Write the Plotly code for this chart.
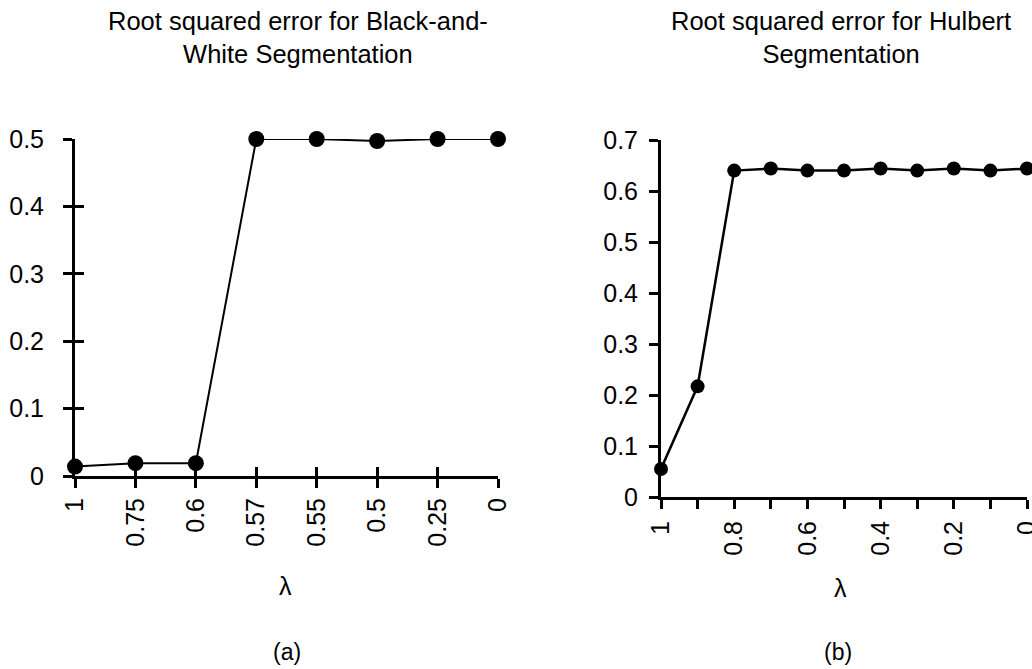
import plotly.graph_objects as go

# ---- data ----
bw_lambda = ["1", "0.75", "0.6", "0.57", "0.55", "0.5", "0.25", "0"]
bw_error = [0.014, 0.019, 0.019, 0.5, 0.5, 0.497, 0.5, 0.5]
bw_yticks = [0, 0.1, 0.2, 0.3, 0.4, 0.5]

hul_lambda = [1.0, 0.9, 0.8, 0.7, 0.6, 0.5, 0.4, 0.3, 0.2, 0.1, 0.0]
hul_error = [0.055, 0.217, 0.64, 0.644, 0.64, 0.64, 0.644, 0.64, 0.644, 0.64, 0.644]
hul_xticks = [1.0, 0.9, 0.8, 0.7, 0.6, 0.5, 0.4, 0.3, 0.2, 0.1, 0.0]
hul_xticktext = ["1", "", "0.8", "", "0.6", "", "0.4", "", "0.2", "", "0"]
hul_yticks = [0, 0.1, 0.2, 0.3, 0.4, 0.5, 0.6, 0.7]

titles = ["Root squared error for Black-and-<br>White Segmentation",
          "Root squared error for Hulbert<br>Segmentation"]
x_label = "λ"
panel_labels = ["(a)", "(b)"]

FONT = "Liberation Sans, Arial, sans-serif"
W, H = 1032, 669

L_dom_x = [75 / W, 498 / W]
L_dom_y = [1 - 476 / H, 1 - 139 / H]
R_dom_x = [661 / W, 1027 / W]
R_dom_y = [1 - 497 / H, 1 - 140 / H]

fig = go.Figure()

fig.add_trace(go.Scatter(x=bw_lambda, y=bw_error, mode="lines+markers",
                         line=dict(color="black", width=2),
                         marker=dict(color="black", size=16),
                         cliponaxis=False, showlegend=False,
                         xaxis="x", yaxis="y"))
# transparent copy so the overlay category axis knows the categories
fig.add_trace(go.Scatter(x=bw_lambda, y=bw_error, mode="markers",
                         marker=dict(opacity=0), showlegend=False,
                         hoverinfo="skip", xaxis="x3", yaxis="y3"))

fig.add_trace(go.Scatter(x=hul_lambda, y=hul_error, mode="lines+markers",
                         line=dict(color="black", width=2.5),
                         marker=dict(color="black", size=14),
                         cliponaxis=False, showlegend=False,
                         xaxis="x2", yaxis="y2"))

tickfont = dict(family=FONT, size=25, color="black")

common_main = dict(showline=True, linewidth=3, linecolor="black",
                   ticks="outside", ticklen=9, tickwidth=3, tickcolor="black",
                   showgrid=False, zeroline=False, tickfont=tickfont,
                   automargin=False, ticklabeloverflow="allow")
common_over = dict(showline=False, ticks="inside", ticklen=9, tickwidth=3,
                   tickcolor="black", showgrid=False, zeroline=False,
                   showticklabels=False, automargin=False)

fig.update_layout(
    template="none",
    width=W, height=H,
    margin=dict(l=0, r=0, t=0, b=0, autoexpand=False),
    paper_bgcolor="white", plot_bgcolor="rgba(0,0,0,0)",
    font=dict(family=FONT, color="black"),
    xaxis=dict(domain=L_dom_x, anchor="y", type="category",
               categoryarray=bw_lambda, range=[0, len(bw_lambda) - 1],
               tickangle=-90, ticklabelstandoff=0, **common_main),
    yaxis=dict(domain=L_dom_y, anchor="x", range=[0, 0.5],
               tickvals=bw_yticks, ticktext=[f"{v:g}" for v in bw_yticks],
               ticklabelstandoff=14, **common_main),
    xaxis3=dict(overlaying="x", anchor="y3", type="category",
                categoryarray=bw_lambda, range=[0, len(bw_lambda) - 1],
                **common_over),
    yaxis3=dict(overlaying="y", anchor="x3", range=[0, 0.5],
                tickvals=bw_yticks, **common_over),
    xaxis2=dict(domain=R_dom_x, anchor="y2", range=[1, 0],
                tickvals=hul_xticks, ticktext=hul_xticktext,
                tickangle=-90, ticklabelstandoff=2, **common_main),
    yaxis2=dict(domain=R_dom_y, anchor="x2", range=[0, 0.7],
                tickvals=hul_yticks, ticktext=[f"{v:g}" for v in hul_yticks],
                ticklabelstandoff=6, **common_main),
    xaxis4=dict(overlaying="x2", anchor="y4", range=[1, 0],
                tickvals=hul_xticks, **common_over),
    yaxis4=dict(overlaying="y2", anchor="x4", range=[0, 0.7],
                tickvals=hul_yticks, **common_over),
)

ann_font = dict(family=FONT, size=25.5, color="black")
common_ann = dict(xref="paper", yref="paper", showarrow=False,
                  xanchor="center", yanchor="middle")
fig.add_annotation(text=titles[0], x=298 / W, y=1 - 37 / H, font=ann_font,
                   align="center", **common_ann)
fig.add_annotation(text=titles[1], x=841 / W, y=1 - 37 / H, font=ann_font,
                   align="center", **common_ann)
fig.add_annotation(text=x_label, x=285 / W, y=1 - 586 / H,
                   font=dict(family=FONT, size=25, color="black"), **common_ann)
fig.add_annotation(text=x_label, x=840 / W, y=1 - 588 / H,
                   font=dict(family=FONT, size=25, color="black"), **common_ann)
fig.add_annotation(text=panel_labels[0], x=287 / W, y=1 - 652 / H,
                   font=dict(family=FONT, size=23, color="black"), **common_ann)
fig.add_annotation(text=panel_labels[1], x=838 / W, y=1 - 652 / H,
                   font=dict(family=FONT, size=23, color="black"), **common_ann)

fig.write_html("out.html",
               config={"displayModeBar": False},
               post_script="document.body.style.margin='0';document.body.style.overflow='hidden';")
